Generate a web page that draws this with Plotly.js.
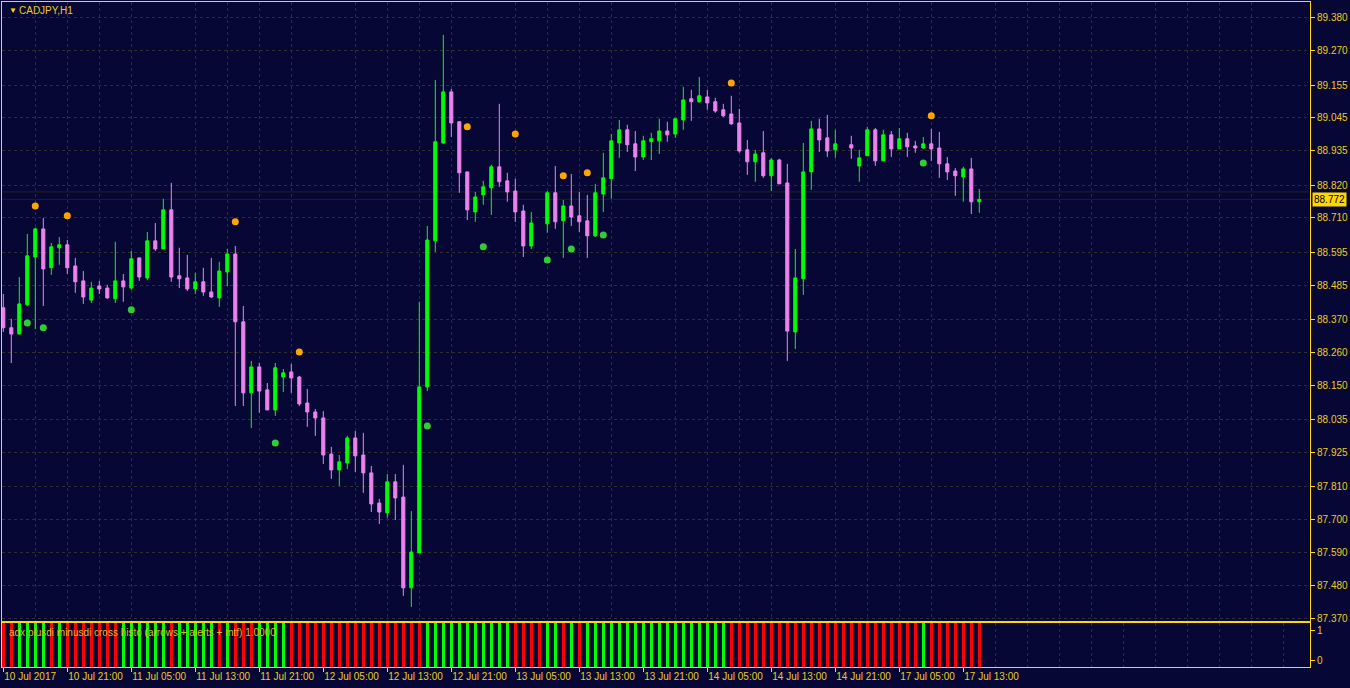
<!DOCTYPE html>
<html><head><meta charset="utf-8">
<script src="https://cdn.plot.ly/plotly-3.0.1.min.js"></script>
<style>html,body{margin:0;padding:0;background:#070736;}#chart{width:1350px;height:688px;}</style>
</head><body><div id="chart"></div>
<script>
const openP = [
88.409,88.342,88.321,88.419,88.579,88.673,88.543,88.610,88.620,88.549,
88.499,88.435,88.482,88.475,88.439,88.499,88.475,88.576,88.509,88.633,
88.606,88.737,88.516,88.509,88.472,88.496,88.462,88.442,88.529,88.589,
88.362,88.124,88.211,88.134,88.067,88.177,88.194,88.177,88.090,88.060,
88.040,87.919,87.866,87.889,87.973,87.916,87.856,87.755,87.722,87.826,
87.775,87.471,87.588,88.144,88.633,88.961,89.132,89.032,88.864,88.730,
88.787,88.811,88.881,88.834,88.800,88.733,88.616,null,88.690,88.794,
88.700,88.750,88.717,88.700,88.650,88.790,88.841,88.961,89.005,88.958,
88.914,88.965,88.968,89.001,88.991,89.038,89.109,89.099,89.115,89.099,
89.072,89.058,89.028,88.938,88.898,88.928,88.851,88.904,88.827,88.328,
88.506,88.864,89.008,88.978,88.938,null,88.955,88.884,88.918,89.005,
88.901,88.988,88.941,88.975,88.951,88.944,88.958,88.944,88.891,88.867,
88.847,88.874,88.764];
const highP = [
88.455,88.372,88.512,88.656,88.677,88.710,88.626,88.646,88.636,88.576,
88.532,88.496,88.499,88.486,88.630,88.522,88.599,88.576,88.663,88.693,
88.774,88.827,88.610,88.586,88.526,88.543,88.576,88.563,88.606,88.616,
88.415,88.231,88.224,88.157,88.224,88.204,88.221,88.181,88.137,88.070,
88.063,87.943,87.916,87.980,87.996,87.990,87.879,87.769,87.852,87.852,
87.883,87.728,88.429,88.683,89.172,89.323,89.142,89.032,88.864,88.797,
88.834,88.888,89.092,88.861,88.841,88.754,88.730,null,88.800,88.884,
88.770,88.857,88.797,88.787,88.824,88.928,88.991,89.038,89.022,89.001,
88.985,88.995,89.042,89.032,89.042,89.149,89.139,89.182,89.139,89.112,
89.092,89.119,89.075,88.971,88.938,89.001,88.911,88.908,88.891,88.606,
88.961,89.035,89.042,89.055,89.005,null,88.985,88.938,89.015,89.011,
89.005,89.001,89.011,88.995,88.968,88.981,89.008,88.998,88.914,88.877,
88.881,88.911,88.807];
const lowP = [
88.328,88.224,88.321,88.415,88.338,88.415,88.519,88.553,88.522,88.459,
88.422,88.425,88.455,88.439,88.425,88.429,88.469,88.499,88.502,88.599,
88.606,88.496,88.475,88.465,88.455,88.449,88.442,88.412,88.482,88.080,
88.080,88.006,88.057,88.067,88.047,88.127,88.124,88.080,88.010,87.980,
87.886,87.836,87.812,87.869,87.859,87.789,87.725,87.685,87.705,87.698,
87.444,87.407,87.588,88.130,88.596,88.958,88.981,88.794,88.703,88.697,
88.754,88.720,88.814,88.764,88.697,88.579,88.606,null,88.660,88.673,
88.576,88.683,88.663,88.576,88.646,88.730,88.774,88.911,88.931,88.867,
88.904,88.904,88.924,88.965,88.978,89.005,89.035,89.095,89.072,89.062,
89.048,89.022,88.928,88.854,88.831,88.844,88.800,88.824,88.231,88.271,
88.452,88.804,88.931,88.914,88.911,null,88.908,88.831,88.918,88.884,
88.901,88.914,88.941,88.914,88.928,88.941,88.901,88.844,88.837,88.784,
88.764,88.723,88.727];
const closeP = [
88.342,88.321,88.422,88.583,88.673,88.539,88.613,88.620,88.543,88.496,
88.445,88.475,88.472,88.442,88.499,88.479,88.573,88.512,88.633,88.606,
88.737,88.512,88.506,88.472,88.496,88.462,88.445,88.532,88.589,88.362,
88.124,88.211,88.130,88.067,88.208,88.191,88.174,88.087,88.060,88.040,
87.916,87.866,87.893,87.973,87.913,87.856,87.752,87.725,87.826,87.772,
87.471,87.591,88.144,88.636,88.965,89.132,89.028,88.861,88.737,88.780,
88.814,88.881,88.831,88.797,88.730,88.616,88.693,null,88.794,88.697,
88.750,88.713,88.697,88.650,88.794,88.844,88.968,89.005,88.955,88.914,
88.968,88.975,89.001,88.988,89.042,89.105,89.099,89.119,89.095,89.068,
89.052,89.025,88.934,88.898,88.924,88.851,88.904,88.824,88.331,88.509,
88.864,89.008,88.971,88.934,88.958,null,88.944,88.911,89.005,88.901,
88.988,88.941,88.975,88.948,88.944,88.958,88.941,88.891,88.864,88.851,
88.874,88.764,88.772];

const upDotBar   = [4,8,29,37,58,64,70,73,91,116];
const upDotPrice = [88.750,88.717,88.697,88.261,89.015,88.991,88.851,88.861,89.162,89.052];
const dnDotBar   = [3,5,16,34,53,60,68,71,75,115];
const dnDotPrice = [88.358,88.342,88.402,87.956,88.013,88.613,88.569,88.606,88.653,88.894];

// 1 = green, -1 = red
const histoSignal = [
-1,-1,1,1,1,1,-1,1,-1,-1,
-1,-1,-1,-1,-1,1,1,1,1,1,
1,-1,1,1,1,1,1,-1,1,-1,
-1,-1,1,1,1,1,-1,-1,-1,-1,
-1,-1,-1,-1,-1,-1,-1,-1,-1,-1,
-1,-1,-1,1,1,1,1,1,1,1,
1,1,1,1,-1,-1,-1,-1,1,1,
-1,1,-1,1,1,1,1,1,1,1,
1,1,1,1,1,1,1,1,1,1,
1,-1,-1,-1,-1,-1,-1,-1,-1,-1,
-1,-1,-1,-1,-1,-1,-1,-1,-1,-1,
-1,-1,-1,-1,-1,1,-1,-1,-1,-1,
-1,-1,-1];

const tickBars = [0,8,16,24,32,40,48,56,64,72,80,88,96,104,112,120];
const tickLabels = ['10 Jul 2017','10 Jul 21:00','11 Jul 05:00','11 Jul 13:00','11 Jul 21:00','12 Jul 05:00','12 Jul 13:00','12 Jul 21:00','13 Jul 05:00','13 Jul 13:00','13 Jul 21:00','14 Jul 05:00','14 Jul 13:00','14 Jul 21:00','17 Jul 05:00','17 Jul 13:00'];
const priceTicks = [89.380,89.270,89.155,89.045,88.935,88.820,88.710,88.595,88.485,88.370,88.260,88.150,88.035,87.925,87.810,87.700,87.590,87.480,87.370];
const bidPrice = 88.772;
const askPrice = 88.797;

const priceRange = [87.360, 89.433];
const histRange = [-0.241, 1.276];
const xRange = [-0.1625, 163.3375];

const idx = openP.map((_, i) => i);
const GOLD = '#FFD700';
const TXT = '#EBCB1E';
const BG = '#070736';
const GRID = '#2e2e2e';
const FONT = '"Liberation Sans", Arial, sans-serif';

const traces = [
  {
    type: 'candlestick', x: idx, open: openP, high: highP, low: lowP, close: closeP,
    xaxis: 'x2', yaxis: 'y',
    increasing: {line: {color: '#00FF00', width: 1}, fillcolor: '#00FF00'},
    decreasing: {line: {color: '#EE82EE', width: 1}, fillcolor: '#EE82EE'},
    whiskerwidth: 0, hoverinfo: 'skip', showlegend: false
  },
  {
    type: 'scatter', mode: 'markers', x: upDotBar, y: upDotPrice, xaxis: 'x2', yaxis: 'y',
    marker: {color: '#FFA500', size: 7}, hoverinfo: 'skip', showlegend: false
  },
  {
    type: 'scatter', mode: 'markers', x: dnDotBar, y: dnDotPrice, xaxis: 'x2', yaxis: 'y',
    marker: {color: '#32CD32', size: 7}, hoverinfo: 'skip', showlegend: false
  },
  {
    type: 'bar', x: idx, y: histoSignal.map(() => histRange[1] - histRange[0]),
    base: histRange[0], width: 0.36, xaxis: 'x', yaxis: 'y2',
    marker: {color: histoSignal.map(s => s > 0 ? '#00FF00' : '#FF0000'), line: {width: 0}},
    hoverinfo: 'skip', showlegend: false
  }
];

const gridMinor = {tickmode: 'linear', tick0: 0, dtick: 4, showgrid: true, gridcolor: GRID, griddash: '3px,3px', gridwidth: 1, ticks: ''};

const layout = {
  width: 1350, height: 688,
  margin: {l: 2, r: 40, t: 2, b: 21, pad: 0},
  paper_bgcolor: BG, plot_bgcolor: BG,
  showlegend: false, hovermode: false, boxgap: 0.45, bargap: 0,
  font: {family: FONT, size: 10, color: TXT},
  xaxis: {
    domain: [0, 1], anchor: 'y2', range: xRange, type: 'linear',
    tickmode: 'array', tickvals: tickBars, ticktext: tickLabels,
    ticks: 'outside', ticklen: 4, tickcolor: GOLD, tickwidth: 1,
    ticklabelposition: 'outside right',
    tickfont: {family: FONT, size: 10, color: TXT},
    showgrid: false, minor: gridMinor, zeroline: false,
    showline: true, mirror: true, linecolor: GOLD, linewidth: 1,
    rangeslider: {visible: false}, fixedrange: true
  },
  xaxis2: {
    domain: [0, 1], anchor: 'y', matches: 'x', range: xRange, type: 'linear',
    showticklabels: false, ticks: '', showgrid: false, minor: gridMinor, zeroline: false,
    showline: true, mirror: true, linecolor: GOLD, linewidth: 1,
    rangeslider: {visible: false}, fixedrange: true
  },
  yaxis: {
    domain: [0.0692, 1], anchor: 'x2', side: 'right', range: priceRange,
    tickmode: 'array', tickvals: priceTicks, ticktext: priceTicks.map(v => v.toFixed(3)),
    ticks: 'outside', ticklen: 4, tickcolor: GOLD,
    tickfont: {family: FONT, size: 10, color: TXT},
    showgrid: true, gridcolor: GRID, griddash: '3px,3px', zeroline: false,
    showline: true, mirror: true, linecolor: GOLD, linewidth: 1, fixedrange: true
  },
  yaxis2: {
    domain: [0, 0.0662], anchor: 'x', side: 'right', range: histRange,
    tickmode: 'array', tickvals: [1, 0], ticktext: ['1', '0'],
    ticks: 'outside', ticklen: 4, tickcolor: GOLD,
    tickfont: {family: FONT, size: 10, color: TXT},
    showgrid: false, zeroline: false,
    showline: true, mirror: true, linecolor: GOLD, linewidth: 1, fixedrange: true
  },
  shapes: [
    {type: 'line', xref: 'x2 domain', yref: 'y', x0: 0, x1: 1, y0: askPrice, y1: askPrice, line: {color: '#22221a', width: 1}, layer: 'below'},
    {type: 'line', xref: 'x2 domain', yref: 'y', x0: 0, x1: 1, y0: bidPrice, y1: bidPrice, line: {color: '#22221a', width: 1}, layer: 'below'}
  ],
  annotations: [
    {xref: 'paper', yref: 'paper', x: 0.0038, y: 0.9875, xanchor: 'left', yanchor: 'middle', text: '▼', showarrow: false, font: {family: FONT, size: 8, color: GOLD}},
    {xref: 'paper', yref: 'paper', x: 0.0115, y: 0.9865, xanchor: 'left', yanchor: 'middle', text: 'CADJPY,H1', showarrow: false, font: {family: FONT, size: 10, color: TXT}},
    {xref: 'paper', yref: 'paper', x: 0.0036, y: 0.0526, xanchor: 'left', yanchor: 'middle', text: 'adx plusdi minusdi cross histo (arrows + alerts + mtf) 1.0000', showarrow: false, font: {family: FONT, size: 10, color: '#D8BC1A'}},
    {xref: 'paper', yref: 'y', x: 1, y: bidPrice, xanchor: 'left', yanchor: 'middle', xshift: 2, text: bidPrice.toFixed(3), showarrow: false, bgcolor: GOLD, borderpad: 1, font: {family: FONT, size: 10, color: '#000000'}}
  ]
};

Plotly.newPlot('chart', traces, layout, {staticPlot: true, displayModeBar: false});
</script>
</body></html>
